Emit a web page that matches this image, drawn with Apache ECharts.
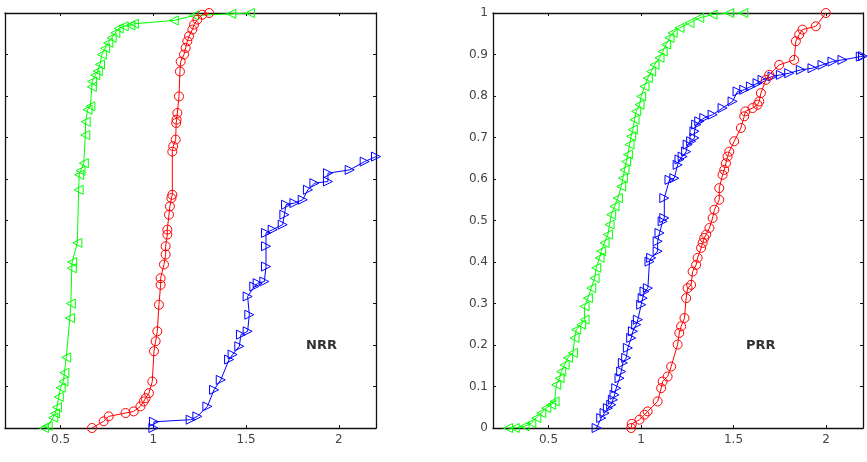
<!DOCTYPE html>
<html>
<head>
<meta charset="utf-8">
<script src="https://cdn.jsdelivr.net/npm/echarts@6/dist/echarts.min.js"></script>
<style>
  html, body { margin: 0; padding: 0; background: #fff; }
  #main { width: 867px; height: 462px; }
</style>
</head>
<body>
<div id="main"></div>
<script>
// x tick labels, same for both panels
const xTicks = [0.5, 1, 1.5, 2];

// NRR panel (left) - [x, cumulative fraction]
const nrrGreen = [[0.41,0],[0.43,0.005],[0.46,0.025],[0.47,0.035],[0.48,0.05],[0.49,0.075],[0.50,0.097],
  [0.515,0.112],[0.52,0.133],[0.53,0.17],[0.55,0.265],[0.555,0.30],[0.56,0.385],[0.562,0.40],[0.59,0.446],
  [0.597,0.574],[0.60,0.61],[0.607,0.62],[0.625,0.638],[0.633,0.706],[0.635,0.738],[0.645,0.767],[0.66,0.775],
  [0.668,0.822],[0.67,0.835],[0.687,0.85],[0.70,0.86],[0.712,0.876],[0.722,0.90],[0.74,0.915],[0.757,0.928],
  [0.775,0.94],[0.795,0.952],[0.813,0.963],[0.84,0.968],[0.876,0.97],[0.895,0.974],[1.11,0.982],[1.22,0.994],
  [1.42,0.998],[1.52,1.0]];
const nrrRed = [[0.669,0],[0.732,0.016],[0.759,0.028],[0.85,0.036],[0.894,0.04],[0.93,0.052],[0.948,0.064],
  [0.958,0.072],[0.976,0.084],[0.994,0.112],[1.003,0.185],[1.012,0.209],[1.021,0.233],[1.030,0.297],
  [1.039,0.345],[1.039,0.361],[1.057,0.394],[1.066,0.418],[1.066,0.438],[1.075,0.466],[1.075,0.478],
  [1.084,0.514],[1.089,0.534],[1.097,0.554],[1.102,0.562],[1.102,0.666],[1.107,0.679],[1.12,0.695],
  [1.123,0.735],[1.125,0.743],[1.129,0.759],[1.138,0.799],[1.143,0.859],[1.147,0.883],[1.165,0.90],
  [1.174,0.916],[1.183,0.932],[1.192,0.944],[1.21,0.96],[1.219,0.972],[1.237,0.984],[1.264,0.996],[1.30,1.0]];
const nrrBlue = [[1.0,0],[1.003,0.015],[1.201,0.02],[1.237,0.028],[1.291,0.052],[1.327,0.092],[1.363,0.116],
  [1.408,0.165],[1.427,0.177],[1.463,0.197],[1.472,0.225],[1.508,0.233],[1.517,0.273],[1.508,0.317],
  [1.544,0.341],[1.562,0.349],[1.598,0.353],[1.607,0.389],[1.607,0.438],[1.607,0.47],[1.643,0.478],
  [1.697,0.49],[1.706,0.514],[1.715,0.538],[1.76,0.542],[1.805,0.55],[1.833,0.574],[1.868,0.59],
  [1.941,0.594],[1.941,0.614],[2.058,0.622],[2.139,0.642],[2.2,0.654]];

// PRR panel (right)
const prrGreen = [[0.281,0],[0.317,0],[0.371,0.004],[0.407,0.012],[0.434,0.024],[0.461,0.036],[0.488,0.048],
  [0.515,0.056],[0.533,0.064],[0.542,0.104],[0.56,0.12],[0.569,0.136],[0.587,0.152],[0.605,0.169],
  [0.632,0.181],[0.641,0.217],[0.65,0.237],[0.677,0.249],[0.695,0.261],[0.695,0.293],[0.713,0.313],
  [0.731,0.337],[0.749,0.361],[0.758,0.386],[0.776,0.41],[0.785,0.426],[0.803,0.446],[0.821,0.466],
  [0.83,0.49],[0.839,0.514],[0.857,0.534],[0.875,0.554],[0.893,0.582],[0.902,0.602],[0.911,0.622],
  [0.92,0.642],[0.929,0.659],[0.938,0.683],[0.947,0.703],[0.956,0.719],[0.965,0.743],[0.974,0.763],
  [0.992,0.779],[1.001,0.799],[1.019,0.823],[1.037,0.843],[1.055,0.859],[1.073,0.875],[1.10,0.892],
  [1.117,0.907],[1.136,0.924],[1.154,0.94],[1.171,0.952],[1.208,0.964],[1.262,0.976],[1.315,0.988],
  [1.387,0.996],[1.477,1.0],[1.553,1.0]];
const prrBlue = [[0.76,0],[0.785,0.024],[0.803,0.036],[0.821,0.048],[0.839,0.056],[0.848,0.068],[0.857,0.08],
  [0.866,0.096],[0.884,0.12],[0.893,0.136],[0.902,0.157],[0.92,0.169],[0.929,0.193],[0.947,0.217],
  [0.956,0.233],[0.974,0.249],[0.983,0.261],[1.001,0.297],[1.009,0.313],[1.019,0.329],[1.037,0.337],
  [1.046,0.401],[1.055,0.41],[1.09,0.426],[1.09,0.45],[1.10,0.47],[1.117,0.498],[1.126,0.506],
  [1.126,0.554],[1.154,0.598],[1.18,0.602],[1.198,0.634],[1.208,0.647],[1.225,0.654],[1.244,0.666],
  [1.252,0.683],[1.271,0.691],[1.289,0.699],[1.289,0.715],[1.298,0.731],[1.315,0.739],[1.342,0.747],
  [1.387,0.755],[1.441,0.771],[1.495,0.787],[1.522,0.811],[1.558,0.815],[1.594,0.823],[1.63,0.831],
  [1.657,0.839],[1.711,0.847],[1.756,0.851],[1.801,0.855],[1.864,0.863],[1.927,0.867],[1.981,0.875],
  [2.035,0.883],[2.089,0.887],[2.188,0.895],[2.2,0.896]];
const prrRed = [[0.947,0],[0.95,0.01],[0.992,0.02],[1.019,0.032],[1.036,0.04],[1.09,0.064],[1.109,0.096],
  [1.117,0.112],[1.144,0.124],[1.163,0.148],[1.198,0.201],[1.207,0.229],[1.217,0.245],[1.235,0.265],
  [1.244,0.313],[1.252,0.337],[1.271,0.345],[1.279,0.377],[1.298,0.393],[1.306,0.41],[1.325,0.434],
  [1.333,0.446],[1.342,0.458],[1.352,0.466],[1.37,0.482],[1.387,0.506],[1.397,0.526],[1.423,0.55],
  [1.423,0.578],[1.441,0.61],[1.45,0.622],[1.459,0.638],[1.468,0.654],[1.477,0.666],[1.504,0.691],
  [1.54,0.723],[1.558,0.751],[1.564,0.763],[1.603,0.771],[1.63,0.779],[1.639,0.787],[1.648,0.807],
  [1.675,0.839],[1.693,0.851],[1.747,0.875],[1.828,0.887],[1.837,0.932],[1.855,0.948],[1.873,0.96],
  [1.945,0.968],[1.999,1.0]];

const panelLabels = ['NRR', 'PRR'];

const triLeft = 'path://M10,0L0,5L10,10Z';
const triRight = 'path://M0,0L10,5L0,10Z';

let myChart = echarts.init(document.getElementById('main'), null, { renderer: 'canvas' });

const frameLine = { show: true, onZero: false, lineStyle: { color: '#111', width: 1.3 } };
const labelFont = 'DejaVu Sans, Liberation Sans, sans-serif';

function xAx(grid, pos, labels) {
    return {
        type: 'value', gridIndex: grid, position: pos, min: 0.2, max: 2.2,
        axisLine: frameLine,
        axisTick: { show: true, inside: true, length: 3, customValues: xTicks, lineStyle: { color: '#111' } },
        axisLabel: { show: labels, customValues: xTicks, color: '#444', fontSize: 12, margin: 6,
            fontFamily: labelFont },
        splitLine: { show: false }
    };
}
function yAx(grid, pos, labels) {
    return {
        type: 'value', gridIndex: grid, position: pos, min: 0, max: 1, interval: 0.1,
        axisLine: frameLine,
        axisTick: { show: true, inside: true, length: 3, lineStyle: { color: '#111' } },
        axisLabel: { show: labels, color: '#444', fontSize: 12, margin: 5,
            fontFamily: labelFont },
        splitLine: { show: false }
    };
}
function line(data, color, symbol, xi, yi) {
    return {
        type: 'line', data: data, xAxisIndex: xi, yAxisIndex: yi,
        symbol: symbol, symbolSize: symbol === 'circle' ? 9 : [9, 9],
        showAllSymbol: true, clip: true,
        lineStyle: { color: color, width: 1 },
        itemStyle: { color: 'transparent', borderColor: color, borderWidth: 1 },
        emphasis: { disabled: true },
        z: color === '#ff0000' ? 3 : 2
    };
}

let option = {
    animation: false,
    backgroundColor: '#fff',
    grid: [
        { left: 5, top: 13, width: 371, height: 415 },
        { left: 493, top: 13, width: 370, height: 415 }
    ],
    xAxis: [xAx(0, 'bottom', true), xAx(0, 'top', false), xAx(1, 'bottom', true), xAx(1, 'top', false)],
    yAxis: [yAx(0, 'left', false), yAx(0, 'right', false), yAx(1, 'left', true), yAx(1, 'right', false)],
    graphic: [
        { type: 'text', left: 306, top: 339, style: { text: panelLabels[0], font: 'bold 13px DejaVu Sans, sans-serif', fill: '#333' } },
        { type: 'text', left: 746, top: 339, style: { text: panelLabels[1], font: 'bold 13px DejaVu Sans, sans-serif', fill: '#333' } }
    ],
    series: [
        line(nrrGreen, '#00ff00', triLeft, 0, 0),
        line(nrrRed, '#ff0000', 'circle', 0, 0),
        line(nrrBlue, '#0000ff', triRight, 0, 0),
        line(prrGreen, '#00ff00', triLeft, 2, 2),
        line(prrBlue, '#0000ff', triRight, 2, 2),
        line(prrRed, '#ff0000', 'circle', 2, 2)
    ]
};
myChart.setOption(option);
</script>
</body>
</html>
